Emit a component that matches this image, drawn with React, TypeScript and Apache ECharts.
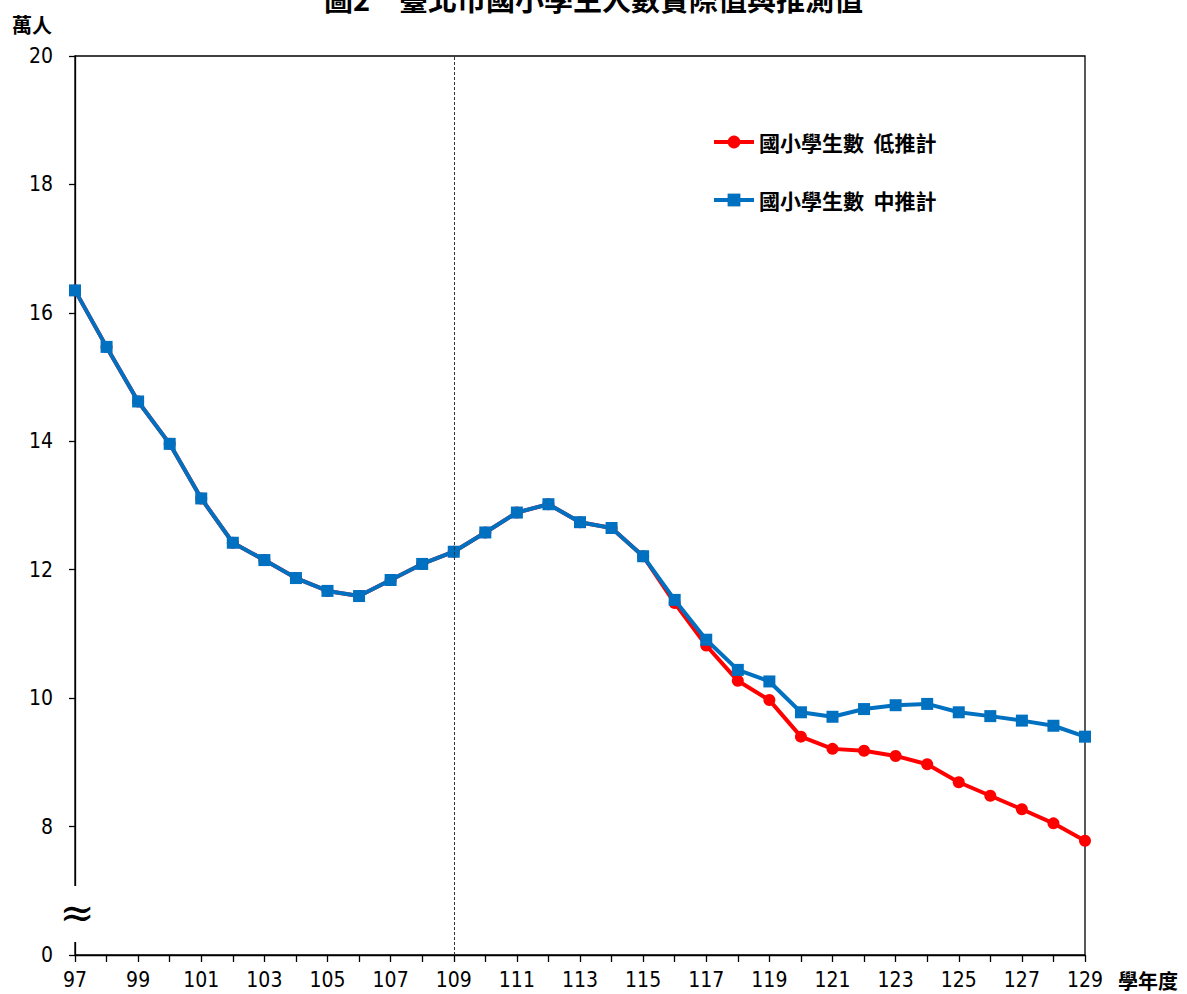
import React, { useEffect, useRef } from "react";
import * as echarts from "echarts";

const years = [97, 98, 99, 100, 101, 102, 103, 104, 105, 106, 107, 108, 109, 110, 111, 112, 113, 114, 115, 116, 117, 118, 119, 120, 121, 122, 123, 124, 125, 126, 127, 128, 129];

const lowValues = [16.35, 15.47, 14.62, 13.96, 13.11, 12.42, 12.15, 11.87, 11.67, 11.59, 11.84, 12.09, 12.28, 12.58, 12.89, 13.02, 12.74, 12.65, 12.21, 11.48, 10.82, 10.27, 9.97, 9.40, 9.21, 9.18, 9.10, 8.97, 8.69, 8.48, 8.27, 8.05, 7.78];

const midValues = [16.35, 15.47, 14.62, 13.96, 13.11, 12.42, 12.15, 11.87, 11.67, 11.59, 11.84, 12.09, 12.28, 12.58, 12.89, 13.02, 12.74, 12.65, 12.21, 11.53, 10.91, 10.44, 10.26, 9.78, 9.71, 9.83, 9.89, 9.91, 9.78, 9.72, 9.65, 9.57, 9.40];

const seriesNames = ["國小學生數  低推計", "國小學生數  中推計"];
const titleText = "圖2　臺北市國小學生人數實際值與推測值";
const yUnit = "萬人";
const xUnit = "學年度";
const dividerYear = 109;

const NUM_FONT = "'Liberation Sans Narrow', 'DejaVu Sans Condensed', 'Roboto Condensed', 'Liberation Sans', sans-serif";
const CJK_FONT = "'Noto Sans CJK TC', 'Noto Sans CJK SC', sans-serif";

export default function App() {
  const ref = useRef<HTMLDivElement>(null);
  useEffect(() => {
    if (!ref.current) return;
    const chart = echarts.init(ref.current, null, { renderer: "svg" });
    const lowData = years.map((y, i) => [y, lowValues[i]]);
    const midData = years.map((y, i) => [y, midValues[i]]);
    chart.setOption({
      animation: false,
      backgroundColor: "#fff",
      grid: {
        left: 75,
        top: 56,
        right: 102,
        bottom: 39,
        show: true,
        borderColor: "#000",
        borderWidth: 1.3,
        backgroundColor: "transparent",
      },
      legend: {
        orient: "vertical",
        left: 712,
        top: 131,
        padding: 0,
        itemWidth: 40,
        itemHeight: 16,
        itemGap: 36,
        lineStyle: { width: 4 },
        textStyle: {
          fontFamily: CJK_FONT,
          fontWeight: "bold",
          fontSize: 21,
          lineHeight: 22,
          color: "#000",
        },
        data: seriesNames,
      },
      xAxis: {
        type: "value",
        min: 97,
        max: 129,
        interval: 1,
        splitLine: { show: false },
        axisLine: { show: true, lineStyle: { color: "#000", width: 1.3 } },
        axisTick: { show: true, length: 7, lineStyle: { color: "#000", width: 1.3 } },
        axisLabel: {
          margin: 14,
          fontFamily: NUM_FONT,
          fontSize: 21,
          color: "#000",
          showMinLabel: true,
          showMaxLabel: true,
          formatter: (v: number) => (v % 2 === 1 ? String(v) : ""),
        },
      },
      yAxis: {
        type: "value",
        min: 6,
        max: 20,
        interval: 2,
        splitLine: { show: false },
        axisLine: { show: true, lineStyle: { color: "#000", width: 1.3 } },
        axisTick: { show: true, length: 6, lineStyle: { color: "#000", width: 1.3 } },
        axisLabel: {
          margin: 22,
          fontFamily: NUM_FONT,
          fontSize: 21,
          color: "#000",
          formatter: (v: number) => (v === 6 ? "0" : String(v)),
        },
      },
      series: [
        {
          name: seriesNames[0],
          type: "line",
          data: lowData,
          symbol: "circle",
          symbolSize: 12,
          lineStyle: { color: "#FF0000", width: 4 },
          itemStyle: { color: "#FF0000" },
          z: 2,
          markLine: {
            silent: true,
            symbol: "none",
            label: { show: false },
            lineStyle: { color: "#333", type: [3, 2], width: 1 },
            data: [{ xAxis: dividerYear }],
          },
        },
        {
          name: seriesNames[1],
          type: "line",
          data: midData,
          symbol: "rect",
          symbolSize: 12,
          lineStyle: { color: "#0070C0", width: 4 },
          itemStyle: { color: "#0070C0" },
          z: 3,
        },
      ],
      graphic: [
        {
          type: "text",
          left: "center",
          top: -17,
          z: 100,
          style: {
            text: titleText,
            fontFamily: CJK_FONT,
            fontWeight: "bold",
            fontSize: 29,
            fill: "#000",
          },
        },
        {
          type: "text",
          x: 32,
          y: 24,
          z: 100,
          style: {
            text: yUnit,
            fontFamily: CJK_FONT,
            fontWeight: "bold",
            fontSize: 20,
            fill: "#000",
            align: "center",
            verticalAlign: "middle",
          },
        },
        {
          type: "text",
          x: 1148,
          y: 980,
          z: 100,
          style: {
            text: xUnit,
            fontFamily: CJK_FONT,
            fontWeight: "bold",
            fontSize: 20,
            lineHeight: 20,
            fill: "#000",
            align: "center",
            verticalAlign: "middle",
          },
        },
        {
          type: "rect",
          z: 100,
          shape: { x: 62, y: 886, width: 28, height: 56 },
          style: { fill: "#fff" },
        },
        {
          type: "text",
          x: 77,
          y: 912,
          z: 101,
          style: {
            text: "≈",
            fontFamily: "'DejaVu Serif', serif",
            fontSize: 42,
            fill: "#000",
            align: "center",
            verticalAlign: "middle",
          },
        },
      ],
    });
    return () => chart.dispose();
  }, []);
  return (
    <div
      ref={ref}
      style={{ position: "absolute", left: 0, top: 0, width: 1187, height: 994 }}
    />
  );
}
